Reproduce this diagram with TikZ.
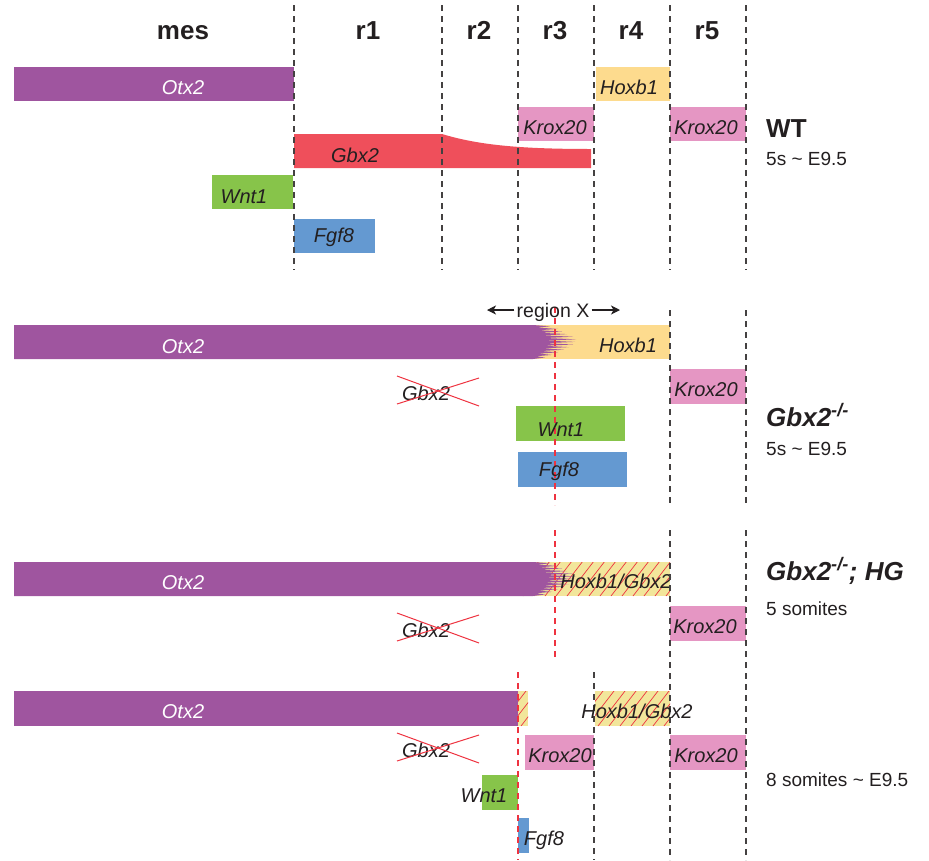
\documentclass[tikz,border=0pt]{standalone}
\usepackage{fontspec}
\setmainfont{Liberation Sans}
\usetikzlibrary{arrows.meta}
\definecolor{otx}{HTML}{9F559F}
\definecolor{hox}{HTML}{FDDB8E}
\definecolor{krox}{HTML}{E596C3}
\definecolor{gbx}{HTML}{EF4F5B}
\definecolor{wnt}{HTML}{87C44A}
\definecolor{fgf}{HTML}{6499D1}
\definecolor{hat}{HTML}{F2E69B}
\definecolor{xred}{HTML}{EE3340}
\definecolor{ink}{HTML}{231F20}
\newcommand\jagpurple{\fill[otx] (14,0) -- (533,0) -- (550,1.3) -- (537,2.6) -- (558,3.9) -- (539,5.2) -- (562,6.5) -- (541,7.8) -- (567,9.1) -- (543,10.4) -- (573,11.7) -- (545,13) -- (576,14.3) -- (546,15.6) -- (575,16.9) -- (545,18.2) -- (573,19.5) -- (544,20.8) -- (569,22.1) -- (543,23.4) -- (564,24.7) -- (541,26) -- (558,27.3) -- (539,28.6) -- (552,29.9) -- (536,31.2) -- (545,32.5) -- (533,34) -- (14,34) -- cycle;}
\newcommand\hatchbox[4]{\begin{scope}\clip (#1,#2) rectangle (#3,#4);
  \foreach \hx in {0,11,...,220} \draw[hatchline] ({#1-30+\hx},#4) -- ++(27,-35);
  \end{scope}}
\begin{document}
\begin{tikzpicture}[x=1pt,y=-1pt,
  lbl/.style={font=\itshape\fontsize{20}{20}\selectfont, text=ink, inner sep=0, anchor=base},
  wlbl/.style={lbl, text=white},
  hdr/.style={font=\bfseries\fontsize{26}{26}\selectfont, text=ink, inner sep=0, anchor=base},
  side/.style={font=\fontsize{19}{19}\selectfont, text=ink, inner sep=0, anchor=base west},
  geno/.style={font=\bfseries\itshape\fontsize{26}{26}\selectfont, text=ink, inner sep=0, anchor=base west},
  wtstyle/.style={font=\bfseries\fontsize{26}{26}\selectfont, text=ink, inner sep=0, anchor=base west},
  bdash/.style={draw=ink!85, line width=1.1pt, dash pattern=on 6pt off 5pt},
  rdash/.style={draw=xred, line width=1.1pt, dash pattern=on 6pt off 5pt},
  crossline/.style={draw=xred, line width=1pt},
  hatchline/.style={draw=xred, line width=0.7pt},
  arr/.style={draw=ink, line width=1.1pt, -{Stealth[length=9pt,width=9pt,inset=2.5pt]}}]
\useasboundingbox (0,0) rectangle (929,860);

% ---------- headers
\foreach \t/\x/\n in {mes/183/hm, r1/368/h1, r2/479/h2, r3/555/h3, r4/631/h4, r5/707/h5}
  \node[hdr] (\n) at (\x,39) {\t};

% ---------- section 1 (WT)
\fill[otx] (14,67) rectangle (294,101);
\fill[hox] (596,67) rectangle (670,101);
\fill[krox] (518,107) rectangle (594,141);
\fill[krox] (670,107) rectangle (746,141);
\fill[gbx] (294,134) -- (442,134) .. controls (478,145) and (520,149) .. (591,149) -- (591,168) -- (294,168) -- cycle;
\fill[wnt] (212,175) rectangle (293,209);
\fill[fgf] (294,219) rectangle (375,253);
\foreach \x in {294,442,518,594,670,746} \draw[bdash] (\x,5) -- (\x,270);
\node[wlbl] (otxA) at (183,94) {Otx2};
\node[lbl] (hoxA) at (629,94) {Hoxb1};
\node[lbl] (kroxA1) at (555,134) {Krox20};
\node[lbl] (kroxA2) at (706,134) {Krox20};
\node[lbl] (gbxA) at (355,162) {Gbx2};
\node[lbl] (wntA) at (244,203) {Wnt1};
\node[lbl] (fgfA) at (334,242) {Fgf8};
\node[wtstyle] (wt) at (766,137) {WT};
\node[side] (stA) at (766,165) {5s \textasciitilde{} E9.5};

% ---------- section 2 (Gbx2-/-)
\fill[hox] (520,325) rectangle (670,359);
\begin{scope}[shift={(0,325)}]\jagpurple\end{scope}
\fill[krox] (670,369) rectangle (746,404);
\fill[wnt] (516,406) rectangle (625,441);
\fill[fgf] (518,452) rectangle (627,487);
\foreach \x in {670,746} \draw[bdash] (\x,310) -- (\x,505);
\draw[rdash] (555,307) -- (555,505);
\node[font=\fontsize{19.5}{19.5}\selectfont, text=ink, inner sep=0, anchor=base] (rx) at (553,317) {region X};
\coordinate (rxl) at (487,310);
\coordinate (rxr) at (620,310);
\draw[arr] ([xshift=-2pt]rx.west |- rxl) -- (rxl);
\draw[arr] ([xshift=2pt]rx.east |- rxr) -- (rxr);
\node[wlbl] (otxB) at (183,353) {Otx2};
\node[lbl] (hoxB) at (628,352) {Hoxb1};
\node[lbl] (gbxB) at (426,400) {Gbx2};
\draw[crossline] (397,376) -- (479,406);
\draw[crossline] (397,404) -- (479,378);
\node[lbl] (kroxB) at (706,396) {Krox20};
\node[lbl] (wntB) at (561,436) {Wnt1};
\node[lbl] (fgfB) at (559,476) {Fgf8};
\node[geno] (koB) at (766,426) {Gbx2\textsuperscript{-/-}};
\node[side] (stB) at (766,455) {5s \textasciitilde{} E9.5};

% ---------- section 3 (Gbx2-/-; HG)
\fill[hat] (520,562) rectangle (670,596);
\hatchbox{520}{562}{670}{596}
\begin{scope}[shift={(0,562)}]\jagpurple\end{scope}
\fill[krox] (670,606) rectangle (746,641);
\draw[rdash] (555,530) -- (555,657);
\node[wlbl] (otxC) at (183,589) {Otx2};
\node[lbl] (hgC) at (616,588) {Hoxb1/Gbx2};
\node[lbl] (gbxC) at (426,637) {Gbx2};
\draw[crossline] (397,613) -- (479,643);
\draw[crossline] (397,641) -- (479,615);
\node[lbl] (kroxC) at (705,633) {Krox20};
\node[geno] (koC) at (766,580) {Gbx2\textsuperscript{-/-}; HG};
\node[side] (stC) at (766,615) {5 somites};

% ---------- section 4
\fill[otx] (14,691) rectangle (518,726);
\fill[hat] (518,691) rectangle (528,726);
\hatchbox{518}{691}{528}{726}
\fill[hat] (595,691) rectangle (670,726);
\hatchbox{595}{691}{670}{726}
\fill[krox] (525,735) rectangle (594,770);
\fill[krox] (670,735) rectangle (746,770);
\fill[wnt] (482,775) rectangle (518,810);
\fill[fgf] (518,818) rectangle (529,853);
\foreach \x in {670,746} \draw[bdash] (\x,530) -- (\x,860);
\draw[bdash] (594,672) -- (594,860);
\draw[rdash] (518,672) -- (518,860);
\node[wlbl] (otxD) at (183,718) {Otx2};
\node[lbl] (hgD) at (637,718) {Hoxb1/Gbx2};
\node[lbl] (gbxD) at (426,757) {Gbx2};
\draw[crossline] (397,733) -- (479,763);
\draw[crossline] (397,761) -- (479,735);
\node[lbl] (kroxD1) at (560,762) {Krox20};
\node[lbl] (kroxD2) at (706,762) {Krox20};
\node[lbl] (wntD) at (484,802) {Wnt1};
\node[lbl] (fgfD) at (544,845) {Fgf8};
\node[side] (stD) at (766,786) {8 somites \textasciitilde{} E9.5};
\end{tikzpicture}
\end{document}
